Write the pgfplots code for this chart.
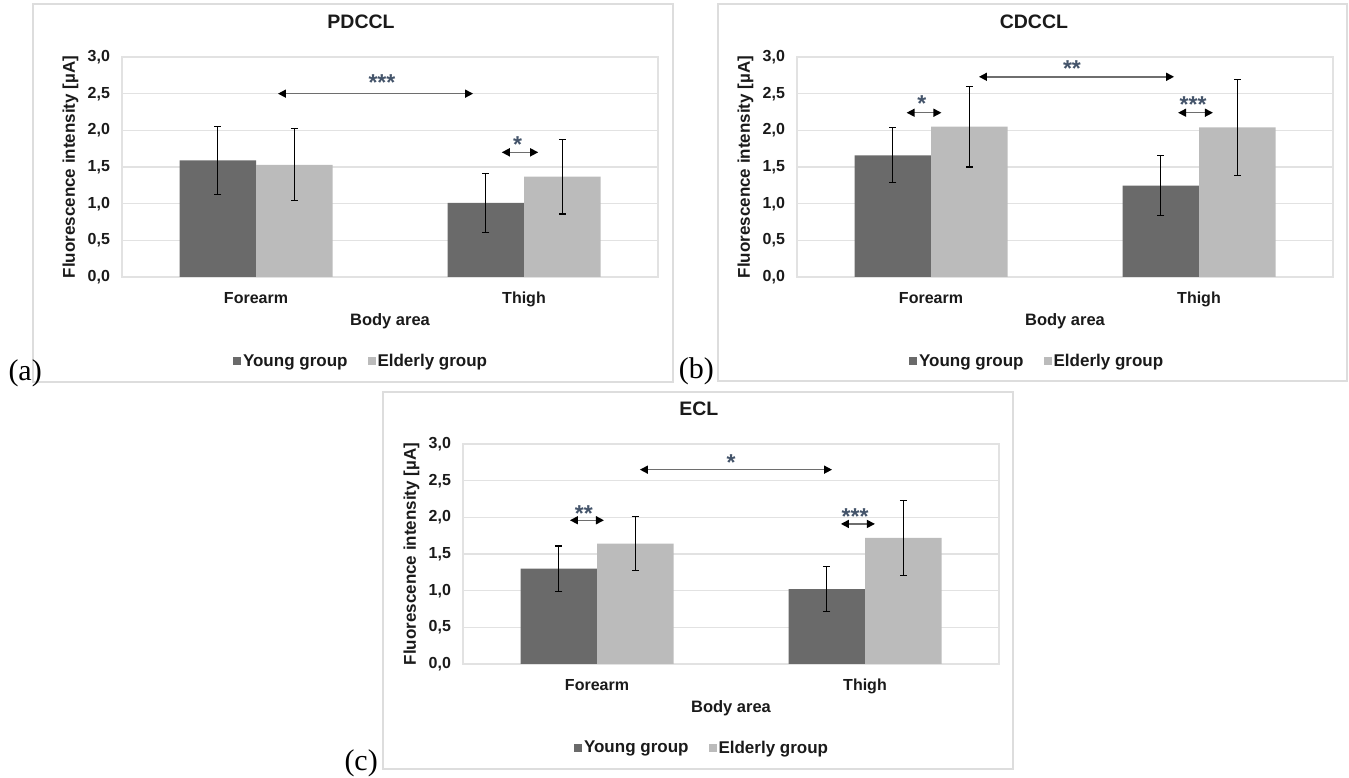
\documentclass[border=0pt]{standalone}
\usepackage{fontspec}
\setmainfont{Liberation Sans}
\newfontfamily\seriffont{Liberation Serif}
\usepackage{pgfplots}
\pgfplotsset{compat=1.18}
\usetikzlibrary{arrows.meta}
\definecolor{dark}{HTML}{6A6A6A}
\definecolor{light}{HTML}{BBBBBB}
\definecolor{gridc}{HTML}{E2E2E2}
\definecolor{boxc}{HTML}{DDDDDD}
\definecolor{starc}{HTML}{44546A}
\definecolor{txt}{HTML}{1A1A1A}
\definecolor{arr}{HTML}{6E6E6E}
\pgfplotsset{
  panel/.style={
    scale only axis, width=536pt, height=220pt,
    xmin=-0.5, xmax=1.5, ymin=0, ymax=3,
    xtick={0,1}, xticklabels={Forearm,Thigh},
    ytick={0,0.5,1,1.5,2,2.5,3},
    ymajorgrids, grid style={gridc, line width=1.5pt},
    axis line style={gridc, line width=1.2pt},
    major tick length=0pt,
    ybar=0pt, bar width=76.5pt,
    /pgf/number format/.cd, fixed, fixed zerofill, precision=1, use comma, assume math mode=true,
    /pgfplots/.cd,
    tick label style={font=\fontsize{16}{16}\selectfont\bfseries, text=txt},
    yticklabel style={xshift=-8.5pt},
    xticklabel style={anchor=base, yshift=-26.5pt},
    xlabel={Body area},
    xlabel style={at={(axis description cs:0.5,-0.2)}, anchor=center, font=\fontsize{16.5}{16.5}\selectfont\bfseries, text=txt},
    ylabel={Fluorescence intensity [µA]},
    ylabel style={at={(axis description cs:-0.096,0.5)}, anchor=center, font=\fontsize{17}{17}\selectfont\bfseries, text=txt},
    title style={anchor=center, font=\fontsize{19.5}{19.5}\selectfont\bfseries, text=txt},
    legend columns=2,
    legend style={draw=none, fill=none, anchor=center, font=\fontsize{17}{17}\selectfont\bfseries, text=txt,
      /tikz/every even column/.append style={column sep=18pt}},
    legend cell align=left,
    legend image code/.code={\fill[#1] (2pt,-4pt) rectangle (10pt,4pt);},
    clip=false,
  },
  young/.style={fill=dark, draw=none,
    error bars/.cd, y dir=both, y explicit,
    error bar style={black, line width=1.2pt},
    error mark options={black, line width=1.2pt, mark size=3.5pt, rotate=90}},
  elder/.style={fill=light, draw=none,
    error bars/.cd, y dir=both, y explicit,
    error bar style={black, line width=1.2pt},
    error mark options={black, line width=1.2pt, mark size=3.5pt, rotate=90}},
}
\tikzset{sig/.style={arr, line width=1.5pt, {Triangle[length=8pt,width=8pt,black]}-{Triangle[length=8pt,width=8pt,black]}},
  star/.style={text=starc, font=\fontsize{23}{23}\selectfont\bfseries, anchor=center, yshift=-4pt, inner sep=0pt}}
\begin{document}
\begin{tikzpicture}
\path[use as bounding box] (0pt,0pt) rectangle (1349pt,778pt);
\draw[boxc, line width=1.5pt] (33pt,396pt) rectangle (673pt,774pt);
\draw[boxc, line width=1.5pt] (718pt,397pt) rectangle (1347pt,774pt);
\draw[boxc, line width=1.5pt] (383pt,9pt) rectangle (1013pt,386pt);
\node[anchor=base east, font=\seriffont\fontsize{30}{30}\selectfont, inner sep=0pt] at (42pt,397pt) {(a)};
\node[anchor=base east, font=\seriffont\fontsize{30}{30}\selectfont, inner sep=0pt] at (714pt,399pt) {(b)};
\node[anchor=base east, font=\seriffont\fontsize{30}{30}\selectfont, inner sep=0pt] at (378pt,7pt) {(c)};

% (a) PDCCL
\begin{axis}[panel, at={(122pt,501pt)}, anchor=south west,
  title={PDCCL}, title style={at={(axis description cs:0.446,1.132)}},
  legend style={at={(axis description cs:0.446,-0.382)}}]
\addplot[young] coordinates {(0,1.59) +- (0,0.46) (1,1.01) +- (0,0.40)};
\addplot[elder] coordinates {(0,1.53) +- (0,0.49) (1,1.37) +- (0,0.51)};
\legend{Young group, Elderly group}
\draw[sig] (axis cs:0.082,2.50) -- (axis cs:0.810,2.50);
\node[star] at (axis cs:0.470,2.71) {***};
\draw[sig] (axis cs:0.917,1.70) -- (axis cs:1.053,1.70);
\node[star] at (axis cs:0.976,1.86) {*};
\end{axis}

% (b) CDCCL
\begin{axis}[panel, at={(797pt,501pt)}, anchor=south west,
  title={CDCCL}, title style={at={(axis description cs:0.442,1.132)}},
  legend style={at={(axis description cs:0.448,-0.382)}}]
\addplot[young] coordinates {(0,1.66) +- (0,0.375) (1,1.245) +- (0,0.41)};
\addplot[elder] coordinates {(0,2.05) +- (0,0.55) (1,2.04) +- (0,0.655)};
\legend{Young group, Elderly group}
\draw[sig] (axis cs:-0.091,2.24) -- (axis cs:0.039,2.24);
\node[star] at (axis cs:-0.034,2.42) {*};
\draw[sig] (axis cs:0.179,2.73) -- (axis cs:0.907,2.73);
\node[star] at (axis cs:0.526,2.89) {**};
\draw[sig] (axis cs:0.922,2.24) -- (axis cs:1.052,2.24);
\node[star] at (axis cs:0.978,2.41) {***};
\end{axis}

% (c) ECL
\begin{axis}[panel, at={(463pt,114pt)}, anchor=south west,
  title={ECL}, title style={at={(axis description cs:0.44,1.133)}},
  legend style={at={(axis description cs:0.446,-0.38)}}]
\addplot[young] coordinates {(0,1.30) +- (0,0.31) (1,1.02) +- (0,0.305)};
\addplot[elder] coordinates {(0,1.64) +- (0,0.37) (1,1.72) +- (0,0.51)};
\legend{Young group, Elderly group}
\draw[sig] (axis cs:-0.101,1.96) -- (axis cs:0.026,1.96);
\node[star] at (axis cs:-0.049,2.10) {**};
\draw[sig] (axis cs:0.160,2.65) -- (axis cs:0.877,2.65);
\node[star] at (axis cs:0.5,2.80) {*};
\draw[sig] (axis cs:0.910,1.91) -- (axis cs:1.037,1.91);
\node[star] at (axis cs:0.963,2.06) {***};
\end{axis}
\end{tikzpicture}
\end{document}
